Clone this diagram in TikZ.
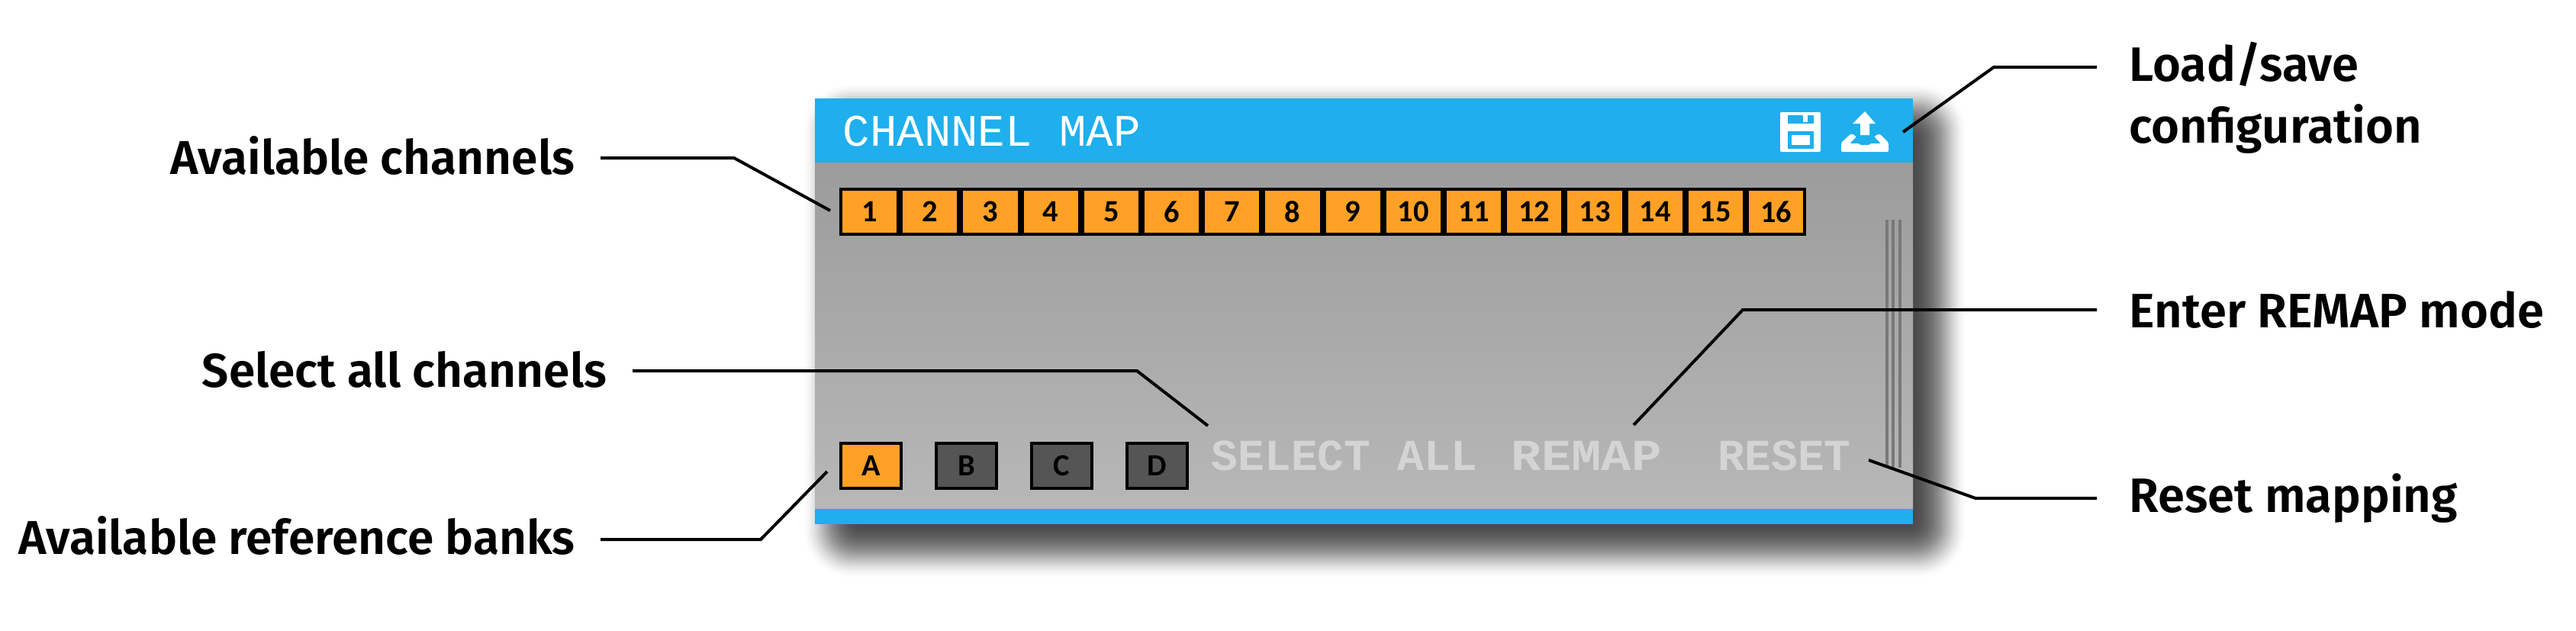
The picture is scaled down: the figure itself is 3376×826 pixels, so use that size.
\documentclass[tikz,border=0pt]{standalone}
\usepackage{fontspec}
\usepackage{xcolor}
\usepackage{tikz}
\usetikzlibrary{calc}
\setmainfont{Fira Sans}[BoldFont={Fira Sans SemiBold}]
\newfontfamily\keyfont{Carlito}
\newfontfamily\monofont{Liberation Mono}
\definecolor{barblue}{RGB}{30,175,236}
\definecolor{keyon}{RGB}{255,161,38}
\definecolor{keyoff}{RGB}{85,85,85}
\definecolor{pixgray}{RGB}{212,212,212}
\definecolor{gripgray}{RGB}{120,120,120}
\begin{document}
\begin{tikzpicture}[x=0.01cm,y=-0.01cm]
\tikzset{chan/.style={draw=black,line width=0.04cm,fill=keyon,minimum width=0.752cm,minimum height=0.59cm,inner sep=0pt,outer sep=0pt,font=\keyfont\bfseries\fontsize{11.5pt}{12pt}\selectfont},
  bank/.style={chan,minimum width=0.79cm},
  leftnote/.style={anchor=base east,inner ysep=0pt,inner xsep=0.33cm,font=\bfseries\fontsize{17.7pt}{22.76pt}\selectfont},
  rightnote/.style={anchor=base west,inner ysep=0pt,inner xsep=0.42cm,align=left,font=\bfseries\fontsize{18pt}{22.76pt}\selectfont},
  pixlabel/.style={anchor=base west,inner sep=0pt,text=pixgray,font=\monofont\bfseries\fontsize{16.5pt}{18pt}\selectfont},
  callout/.style={draw=black,line width=0.04cm},
  grip/.style={draw=gripgray,line width=0.04cm}}
\useasboundingbox (0,0) rectangle (3376,826);
% soft shadow under the panel
\foreach \k in {0,...,39} {
  \pgfmathsetmacro\d{40-2*\k}
  \pgfmathsetmacro\r{(60-1.5*\k)*0.01}
  \pgfmathsetmacro\op{0.004+0.045*sin(180*\k/39)}
  \fill[black,opacity=\op,rounded corners=\r cm] ({1093-\d},{150-\d}) rectangle ({2537+\d},{717+\d});
}
% panel
\shade[top color=black!39,bottom color=black!28] (1068,213) rectangle (2507,667);
\fill[barblue] (1068,129) rectangle (2507,213);
\fill[barblue] (1068,667) rectangle (2507,687);
\node[anchor=base west,inner sep=0pt,text=white,font=\monofont\fontsize{16.8pt}{18pt}\selectfont] (title) at (1104,191) {CHANNEL MAP};
% save icon
\fill[white,rounded corners=0.02cm] (2333,147) rectangle (2386,199);
\fill[barblue] (2343,151) rectangle (2377,162);
\fill[white] (2363,148) rectangle (2369,160);
\fill[barblue] (2343,172) rectangle (2377,195);
\fill[white] (2348,177) rectangle (2372,190);
% load icon
\fill[white] (2444,146) -- (2458,162) -- (2450,162) -- (2450,177) -- (2438,177) -- (2438,162) -- (2428,162) -- cycle;
\fill[white,rounded corners=0.02cm] (2413,187) -- (2426,175) -- (2433,179) -- (2424,188) -- (2437,188) -- (2437,190) -- (2451,190) -- (2451,188) -- (2465,188) -- (2456,179) -- (2463,175) -- (2475,187) -- (2475,199) -- (2413,199) -- cycle;
% channel keys
\node[chan] (ch1) at (1139.6,277.5) {1};
\node[chan] (ch2) at (1218.8,277.5) {2};
\node[chan] (ch3) at (1298,277.5) {3};
\node[chan] (ch4) at (1377.2,277.5) {4};
\node[chan] (ch5) at (1456.4,277.5) {5};
\node[chan] (ch6) at (1535.6,277.5) {6};
\node[chan] (ch7) at (1614.8,277.5) {7};
\node[chan] (ch8) at (1694,277.5) {8};
\node[chan] (ch9) at (1773.2,277.5) {9};
\node[chan] (ch10) at (1852.4,277.5) {10};
\node[chan] (ch11) at (1931.6,277.5) {11};
\node[chan] (ch12) at (2010.8,277.5) {12};
\node[chan] (ch13) at (2090,277.5) {13};
\node[chan] (ch14) at (2169.2,277.5) {14};
\node[chan] (ch15) at (2248.4,277.5) {15};
\node[chan] (ch16) at (2327.6,277.5) {16};
% reference banks
\node[bank] (bka) at (1141.5,610.5) {A};
\node[bank,fill=keyoff] (bkb) at (1266.5,610.5) {B};
\node[bank,fill=keyoff] (bkc) at (1391.5,610.5) {C};
\node[bank,fill=keyoff] (bkd) at (1516.5,610.5) {D};
% pixel buttons
\node[pixlabel] (selall) at (1587,616) {SELECT ALL};
\node[pixlabel] (remap) at (1980,616) {\scalebox{1.13}[1]{REMAP}};
\node[pixlabel] (reset) at (2251,616) {RESET};
\draw[grip] (2473,288) -- (2473,613);
\draw[grip] (2481,288) -- (2481,613);
\draw[grip] (2490,288) -- (2490,613);
% notes
\node[leftnote] (nchan) at (787,228) {Available channels};
\node[leftnote] (nbank) at (787,726) {Available reference banks};
\node[leftnote] (nsel) at (829,507) {Select all channels};
\node[rightnote] (nload) at (2748,187) {Load/save\\configuration};
\node[rightnote] (nremap) at (2748,429) {Enter REMAP mode};
\node[rightnote] (nreset) at (2748,671) {Reset mapping};
% callouts
\coordinate (tchan) at (1088,276);
\coordinate (tbank) at (1084,618);
\coordinate (tsel) at (1583,558);
\coordinate (tload) at (2494,173);
\coordinate (tremap) at (2141,557);
\coordinate (treset) at (2449,603);
\coordinate (echan) at (962,207);
\coordinate (ebank) at (997,707);
\coordinate (esel) at (1490,486);
\coordinate (eload) at (2613,88);
\coordinate (eremap) at (2284,406);
\coordinate (ereset) at (2589,653);
\draw[callout] (nchan.east |- echan) -- (echan) -- (tchan);
\draw[callout] (nbank.east |- ebank) -- (ebank) -- (tbank);
\draw[callout] (nsel.east |- esel) -- (esel) -- (tsel);
\draw[callout] (nload.west |- eload) -- (eload) -- (tload);
\draw[callout] (nremap.west |- eremap) -- (eremap) -- (tremap);
\draw[callout] (nreset.west |- ereset) -- (ereset) -- (treset);
\end{tikzpicture}
\end{document}
